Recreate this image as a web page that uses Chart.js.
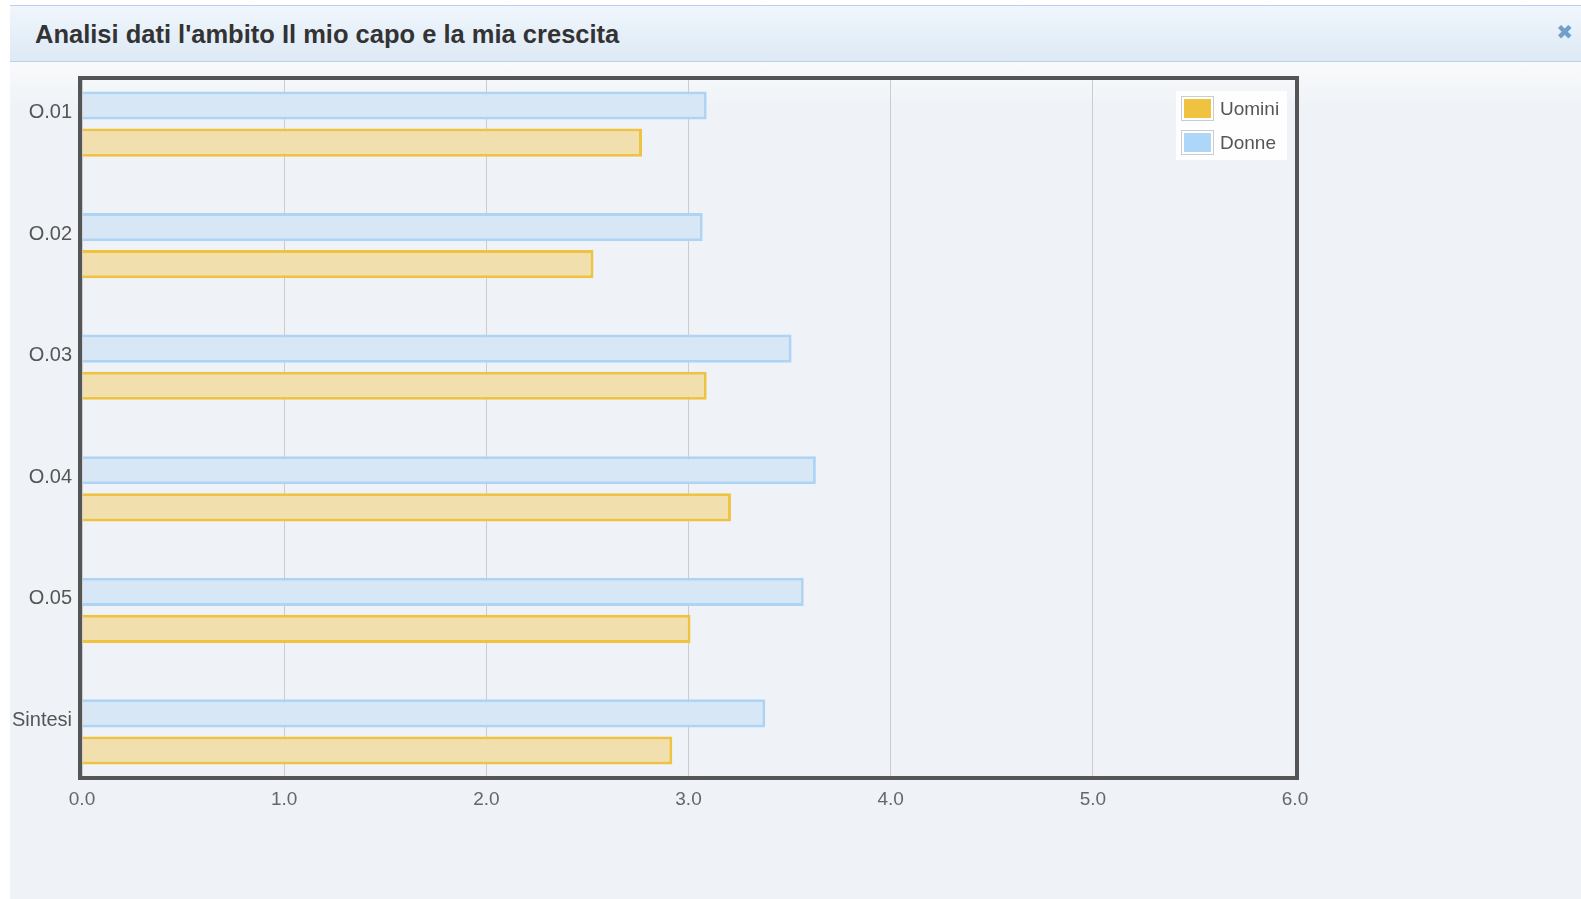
<!DOCTYPE html>
<html lang="it">
<head>
<meta charset="utf-8">
<title>Analisi dati</title>
<script src="https://cdn.jsdelivr.net/npm/chart.js@4.4.1/dist/chart.umd.min.js"></script>
<style>
  html, body { margin: 0; padding: 0; background: #fff; width: 1581px; height: 899px; overflow: hidden; }
  body { position: relative; font-family: "Liberation Sans", Arial, sans-serif; }
  .titolo {
    position: absolute; left: 10px; top: 5px; width: 1571px; height: 57px;
    background: linear-gradient(#f0f6fc, #dde9f5);
    border-top: 1px solid #b7d3ec; border-bottom: 1px solid #b7d3ec;
    box-sizing: border-box;
  }
  .titolo h1 {
    margin: 0; position: absolute; left: 25px; top: 13px;
    font-size: 25.5px; font-weight: bold; color: #333; line-height: 30px;
    white-space: nowrap;
  }
  .titolo .chiudi {
    position: absolute; right: 8px; top: 14px; font-family: "DejaVu Sans", sans-serif;
    font-size: 20px; color: #6f9fcd; line-height: 24px;
  }
  .corpo {
    position: absolute; left: 10px; top: 62px; width: 1571px; height: 837px;
    background: linear-gradient(#f9fafc 0px, #eff3f7 45px, #eff3f7 100%);
  }
  #grafico { position: absolute; left: 10px; top: 63px; }
  .legenda {
    position: absolute; left: 1176px; top: 91px; width: 111px; height: 69px;
    background: rgba(255, 255, 255, 0.9);
  }
  .legenda .voce { position: absolute; left: 5px; height: 25px; }
  .legenda .box {
    position: absolute; left: 0; top: 0; width: 27px; height: 19px;
    border: 1px solid #cccccc; padding: 2px; background: #fff;
  }
  .legenda .box span { display: block; width: 27px; height: 19px; }
  .legenda .testo {
    position: absolute; left: 39px; top: 1px; font-size: 19px; color: #555;
    line-height: 24px; white-space: nowrap;
  }
</style>
</head>
<body>
<div class="titolo">
  <h1>Analisi dati l'ambito Il mio capo e la mia crescita</h1>
  <span class="chiudi">✖</span>
</div>
<div class="corpo"></div>
<canvas id="grafico" width="1571" height="836"></canvas>
<div class="legenda" id="legenda"></div>

<script>
// Dati
const domande = ['O.01', 'O.02', 'O.03', 'O.04', 'O.05', 'Sintesi'];
const uomini = [2.77, 2.53, 3.09, 3.21, 3.01, 2.92];
const donne = [3.09, 3.07, 3.51, 3.63, 3.57, 3.38];
const tickX = [0, 1, 2, 3, 4, 5, 6];

// Cornice scura attorno all'area del grafico
const cornice = {
    id: 'cornice',
    afterDraw(chart) {
        const a = chart.chartArea;
        const ctx = chart.ctx;
        ctx.save();
        ctx.strokeStyle = '#555555';
        ctx.lineWidth = 4;
        ctx.strokeRect(a.left - 2, a.top - 2, a.right - a.left + 4, a.bottom - a.top + 4);
        ctx.restore();
    }
};

function creaGrafica() {
    const datiDonne = donne.map(function (v, i) { return { x: v, y: i }; });
    const datiUomini = uomini.map(function (v, i) { return { x: v, y: i }; });

    const datos = {
        datasets: [
            {
                label: 'Donne',
                data: datiDonne,
                backgroundColor: '#d7e7f5',
                borderColor: '#aed4f5',
                borderWidth: 3,
                legendColor: '#aed6f8'
            },
            {
                label: 'Uomini',
                data: datiUomini,
                backgroundColor: '#f1e0ae',
                borderColor: '#efc23f',
                borderWidth: 3,
                legendColor: '#efc23f'
            }
        ]
    };

    const opciones = {
        responsive: false,
        animation: false,
        indexAxis: 'y',
        categoryPercentage: 0.61,
        barPercentage: 0.76,
        layout: { padding: { top: 17, right: 286, left: 0, bottom: 0 } },
        plugins: {
            legend: { display: false },
            tooltip: { enabled: false }
        },
        scales: {
            x: {
                type: 'linear',
                min: 0,
                max: 6,
                afterFit: function (s) { s.height = 123; s.paddingLeft = 0; s.paddingRight = 0; },
                afterBuildTicks: function (s) { s.ticks = tickX.map(function (v) { return { value: v }; }); },
                grid: { color: '#cccccc', lineWidth: 1, drawTicks: false },
                border: { display: false },
                ticks: {
                    padding: 12,
                    color: '#666',
                    font: { family: 'Liberation Sans', size: 19 },
                    maxRotation: 0,
                    callback: function (v) { return Number(v).toFixed(1); }
                }
            },
            y: {
                type: 'linear',
                reverse: true,
                offset: false,
                min: -0.362,
                max: 5.362,
                afterFit: function (s) { s.width = 72; s.paddingTop = 0; s.paddingBottom = 0; },
                afterBuildTicks: function (s) { s.ticks = domande.map(function (d, i) { return { value: i }; }); },
                grid: { display: false, drawTicks: false },
                border: { display: false },
                ticks: {
                    padding: 10,
                    labelOffset: -11.5,
                    color: '#555',
                    font: { family: 'Liberation Sans', size: 20 },
                    callback: function (v) { return domande[v]; }
                }
            }
        }
    };

    const grafica = new Chart(document.getElementById('grafico'), {
        type: 'bar',
        data: datos,
        options: opciones,
        plugins: [cornice]
    });
    return grafica;
}

// Legenda in HTML, Uomini prima di Donne come nell'originale
function creaLegenda(grafica) {
    const legenda = document.getElementById('legenda');
    const serie = grafica.data.datasets.slice().reverse();
    serie.forEach(function (ds, i) {
        const voce = document.createElement('div');
        voce.className = 'voce';
        voce.style.top = (5 + i * 34) + 'px';
        voce.innerHTML = '<div class="box"><span style="background:' + ds.legendColor + '"></span></div>' +
            '<div class="testo">' + ds.label + '</div>';
        legenda.appendChild(voce);
    });
}

window.addEventListener('load', function () {
    const g = creaGrafica();
    creaLegenda(g);
});
</script>
</body>
</html>
